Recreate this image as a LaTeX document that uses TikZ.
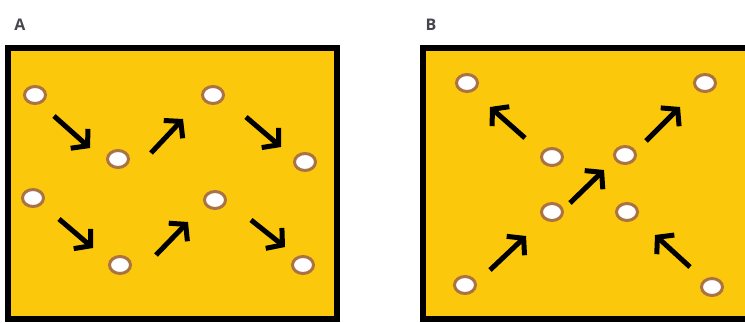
\documentclass[tikz,border=0pt]{standalone}
\usepackage{fontspec}
\setsansfont{Open Sans}
\usetikzlibrary{arrows.meta,shapes.geometric}
\definecolor{panelyellow}{RGB}{252,200,12}
\definecolor{ringbrown}{RGB}{170,115,70}
\definecolor{labelgray}{RGB}{70,70,78}
\tikzset{
  panel/.style={draw=black, line width=6pt, fill=panelyellow},
  hole/.style={ellipse, draw=ringbrown, line width=3pt, fill=white, minimum width=21pt, minimum height=17pt, inner sep=0pt},
  mvarrow/.style={line width=5pt, -{Straight Barb[length=11pt,width=26pt,line cap=butt,line join=miter]}},
  paneltitle/.style={font=\sffamily\bfseries\fontsize{16}{16}\selectfont, text=labelgray}
}
\begin{document}
\begin{tikzpicture}[x=1pt,y=-1pt]
\useasboundingbox (0,0) rectangle (745,322);
\begin{scope}
\clip (0,0) rectangle (745,322);
\draw[panel] (8,48) rectangle (337,319);
\draw[panel] (423,48) rectangle (760,319);
\end{scope}
\node[paneltitle] (la) at (20,25) {A};
\node[paneltitle] (lb) at (431,25) {B};
% Panel A holes
\node[hole] (a1) at (35,95) {};
\node[hole] (a2) at (118,159) {};
\node[hole] (a3) at (213,95) {};
\node[hole] (a4) at (305,162) {};
\node[hole] (a5) at (33,198) {};
\node[hole] (a6) at (120,265) {};
\node[hole] (a7) at (215,200) {};
\node[hole] (a8) at (303,265) {};
\coordinate (aa1s) at (54,116); \coordinate (aa1e) at (90,148);
\coordinate (aa2s) at (151,153); \coordinate (aa2e) at (183,119);
\coordinate (aa3s) at (246,117); \coordinate (aa3e) at (281,147);
\coordinate (aa4s) at (59,219); \coordinate (aa4e) at (93,248);
\coordinate (aa5s) at (156,255); \coordinate (aa5e) at (188,222);
\coordinate (aa6s) at (251,220); \coordinate (aa6e) at (285,247);
\draw[mvarrow] (aa1s) -- (aa1e);
\draw[mvarrow] (aa2s) -- (aa2e);
\draw[mvarrow] (aa3s) -- (aa3e);
\draw[mvarrow] (aa4s) -- (aa4e);
\draw[mvarrow] (aa5s) -- (aa5e);
\draw[mvarrow] (aa6s) -- (aa6e);
% Panel B holes
\node[hole] (b1) at (467,83) {};
\node[hole] (b2) at (705,83) {};
\node[hole] (b3) at (552,157) {};
\node[hole] (b4) at (625,155) {};
\node[hole] (b5) at (552,212) {};
\node[hole] (b6) at (627,212) {};
\node[hole] (b7) at (465,285) {};
\node[hole] (b8) at (712,287) {};
\coordinate (ba1s) at (525,138); \coordinate (ba1e) at (490,107);
\coordinate (ba2s) at (646,141); \coordinate (ba2e) at (680,107);
\coordinate (ba3s) at (570,203); \coordinate (ba3e) at (604,170);
\coordinate (ba4s) at (490,270); \coordinate (ba4e) at (526,236);
\coordinate (ba5s) at (690,267); \coordinate (ba5e) at (655,235);
\draw[mvarrow] (ba1s) -- (ba1e);
\draw[mvarrow] (ba2s) -- (ba2e);
\draw[mvarrow] (ba3s) -- (ba3e);
\draw[mvarrow] (ba4s) -- (ba4e);
\draw[mvarrow] (ba5s) -- (ba5e);
\end{tikzpicture}
\end{document}
